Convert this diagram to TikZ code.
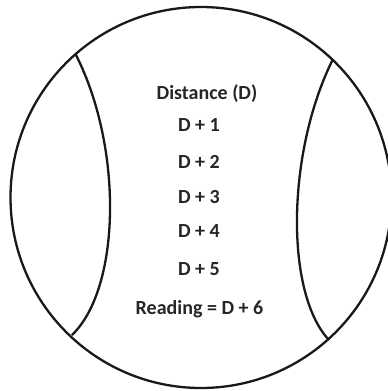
\documentclass[tikz,border=0pt]{standalone}
\usepackage{fontspec}
\setmainfont{Carlito}
\begin{document}
\begin{tikzpicture}[x=1pt,y=-1pt,
  ring/.style={line width=2.3pt, draw=black!90},
  seam/.style={line width=2.3pt, draw=black!90},
  lbl/.style={font=\bfseries\fontsize{20}{24}\selectfont, text=black!85, inner sep=0pt, anchor=base}]
\useasboundingbox (0,0) rectangle (388,391);
\fill[white] (0,0) rectangle (388,391);
\draw[ring] (201,197.5) circle[radius=190.5pt];
\coordinate (lt) at (76,55);
\coordinate (lb) at (72,335);
\coordinate (rt) at (333,59);
\coordinate (rb) at (329,340);
\draw[seam] (lt) .. controls (123.3,148.3) and (120.7,288.3) .. (lb);
\draw[seam] (rt) .. controls (286.3,152.7) and (285,293.3) .. (rb);
\node[lbl] (dist) at (207,99.5) {Distance (D)};
\node[lbl] (d1) at (199,131.5) {D + 1};
\node[lbl] (d2) at (199,168.5) {D + 2};
\node[lbl] (d3) at (199,203.5) {D + 3};
\node[lbl] (d4) at (199,237.5) {D + 4};
\node[lbl] (d5) at (199,275.5) {D + 5};
\node[lbl] (rd) at (199.5,314) {Reading = D + 6};
\end{tikzpicture}
\end{document}
